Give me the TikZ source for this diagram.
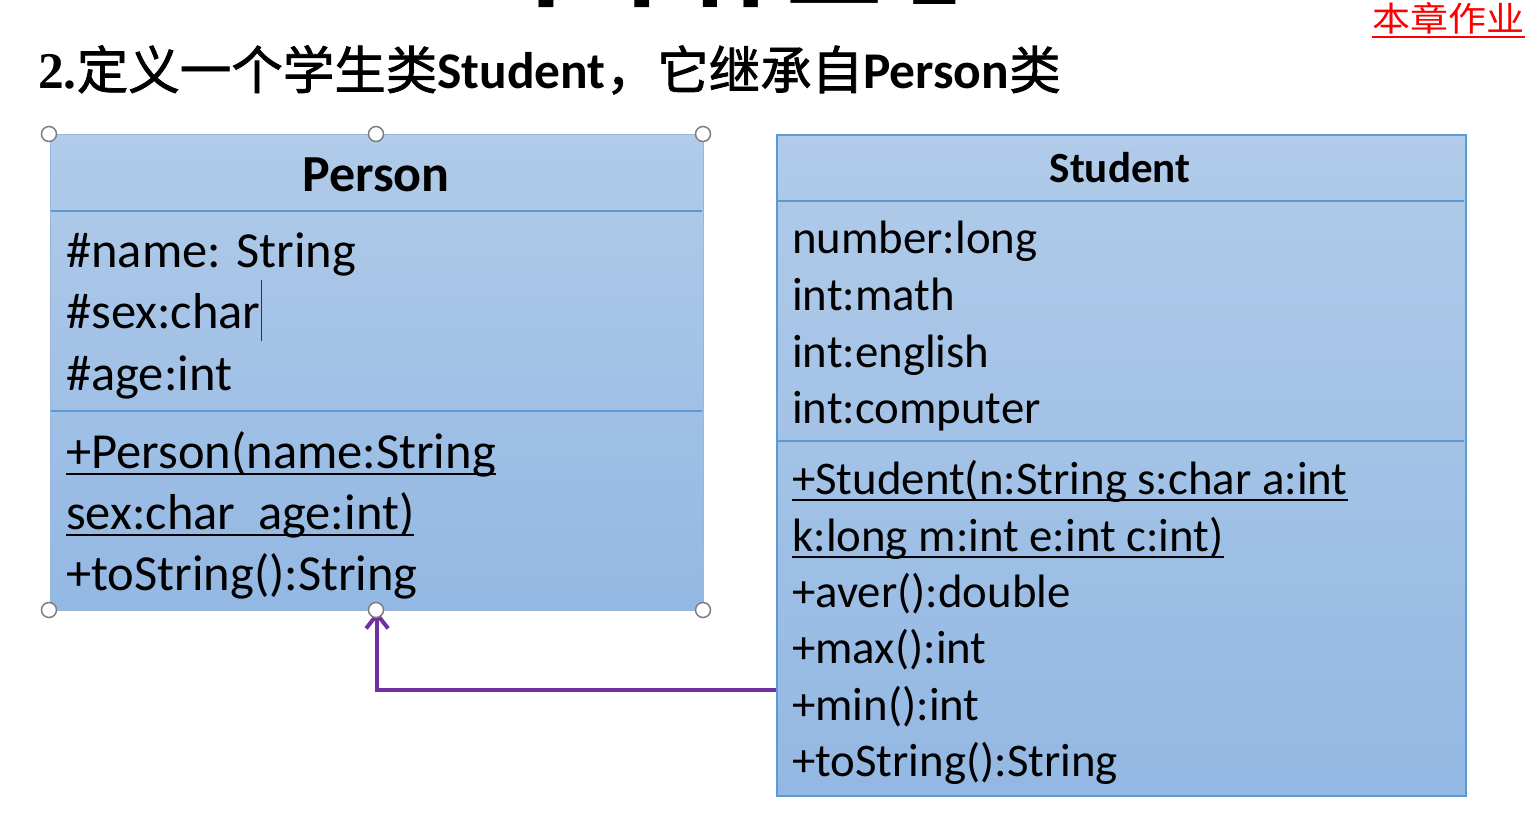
\documentclass[tikz,border=0pt]{standalone}
\usepackage{fontspec}
\setmainfont{Carlito}
\newfontfamily\cjk{Noto Sans CJK SC}
\newfontfamily\cjkt{Noto Sans CJK SC}[FakeBold=1.5]
\newfontfamily\cjkw{Noto Sans CJK SC}[FakeStretch=1.12]
\newfontfamily\tnr{Liberation Serif}
\usetikzlibrary{arrows.meta}
\definecolor{boxtop}{HTML}{B1CBE9}
\definecolor{boxbot}{HTML}{93B8E3}
\definecolor{divblue}{HTML}{5B9BD5}
\definecolor{pborder}{HTML}{9AB5DB}
\definecolor{inhpurple}{HTML}{7030A0}
\definecolor{handlegray}{HTML}{7F7F7F}
\begin{document}
\begin{tikzpicture}[x=1pt,y=-1pt,
  classbox/.style={rectangle, inner sep=0pt, anchor=north west, top color=boxtop, bottom color=boxbot},
  divider/.style={draw=divblue, line width=2.2pt},
  pmember/.style={anchor=base west, inner sep=0pt, font=\fontsize{50.5}{60}\selectfont},
  smember/.style={anchor=base west, inner sep=0pt, font=\fontsize{46.8}{56}\selectfont},
  uline/.style={draw=black, line width=2pt},
  inh/.style={draw=inhpurple, line width=4pt, -{Straight Barb[length=14pt,width=22pt]}},
  handle/.style={draw=handlegray, fill=white, line width=1.5pt}]
\useasboundingbox (0,0) rectangle (1532,834);
\fill[white] (0,0) rectangle (1532,834);

% clipped big title at top
\begin{scope}
\clip (0,0) rectangle (1532,834);
\node[anchor=base west, inner sep=0pt, font=\cjk\bfseries\fontsize{96}{100}\selectfont] (bigt) at (498,-1) {本章作业};
\node[anchor=base west, inner sep=0pt, font=\bfseries\fontsize{96}{100}\selectfont] (bign) at (910,5) {2};
\end{scope}

% red corner label
\node[anchor=base west, inner sep=0pt, text=red, font=\cjkw\fontsize{34}{40}\selectfont] (hw) at (1372,32) {本章作业};
\draw[red, line width=2pt] ([yshift=-5pt]hw.base west) -- ([yshift=-5pt]hw.base east);

% title
\node[anchor=base west, inner sep=0pt, font=\fontsize{51.5}{60}\selectfont] (title) at (38,89)
  {{\tnr\bfseries 2.}{\cjkt 定义一个学生类}{\bfseries Student}{\cjkt ，它继承自}{\bfseries Person}{\cjkt 类}};

% Person class
\node[classbox, draw=pborder, line width=1.2pt, minimum width=653pt, minimum height=476pt] (person) at (50,134) {};
\draw[divider] (51,211) -- (702,211);
\draw[divider] (51,411) -- (702,411);
\node[anchor=base, inner sep=0pt, font=\bfseries\fontsize{52}{60}\selectfont] (pname) at (376,192) {Person};
\node[pmember] (pa1) at (66,268) {\#name: String};
\node[pmember] (pa2) at (66,329) {\#sex:char};
\node[pmember] (pa3) at (66,390) {\#age:int};
\node[pmember] (pm1) at (66,468) {+Person(name:String};
\node[pmember] (pm2) at (66,529) {sex:char~~age:int)};
\node[pmember] (pm3) at (66,590) {+toString():String};
\draw[uline] ([yshift=-6pt]pm1.base west) -- ([yshift=-6pt]pm1.base east);
\draw[uline] ([yshift=-6pt]pm2.base west) -- ([yshift=-6pt]pm2.base east);
\draw[black!80, line width=1pt] (261,280) -- (261,341);

% Student class
\node[classbox, draw=divblue, line width=2.2pt, minimum width=689pt, minimum height=661pt] (student) at (776,134) {};
\draw[divider] (777,201) -- (1464,201);
\draw[divider] (777,441) -- (1464,441);
\node[anchor=base, inner sep=0pt, font=\bfseries\fontsize{43}{50}\selectfont] (sname) at (1120,183) {Student};
\node[smember] (sa1) at (792,254) {number:long};
\node[smember] (sa2) at (792,311) {int:math};
\node[smember] (sa3) at (792,367) {int:english};
\node[smember] (sa4) at (792,423) {int:computer};
\node[smember] (sm1) at (792,494) {+Student(n:String s:char a:int};
\node[smember] (sm2) at (792,551) {k:long m:int e:int c:int)};
\node[smember] (sm3) at (792,607) {+aver():double};
\node[smember] (sm4) at (792,663) {+max():int};
\node[smember] (sm5) at (792,720) {+min():int};
\node[smember] (sm6) at (792,776) {+toString():String};
\draw[uline] ([yshift=-6pt]sm1.base west) -- ([yshift=-6pt]sm1.base east);
\draw[uline] ([yshift=-6pt]sm2.base west) -- ([yshift=-6pt]sm2.base east);

% inheritance connector
\coordinate (sj) at (776,690);
\draw[inh] (sj) -| (person.south);

% selection handles
\foreach \hx/\hy in {49/134, 376/134, 703/134, 49/610, 376/610, 703/610}
  \draw[handle] (\hx,\hy) circle (7.5);
\end{tikzpicture}
\end{document}
